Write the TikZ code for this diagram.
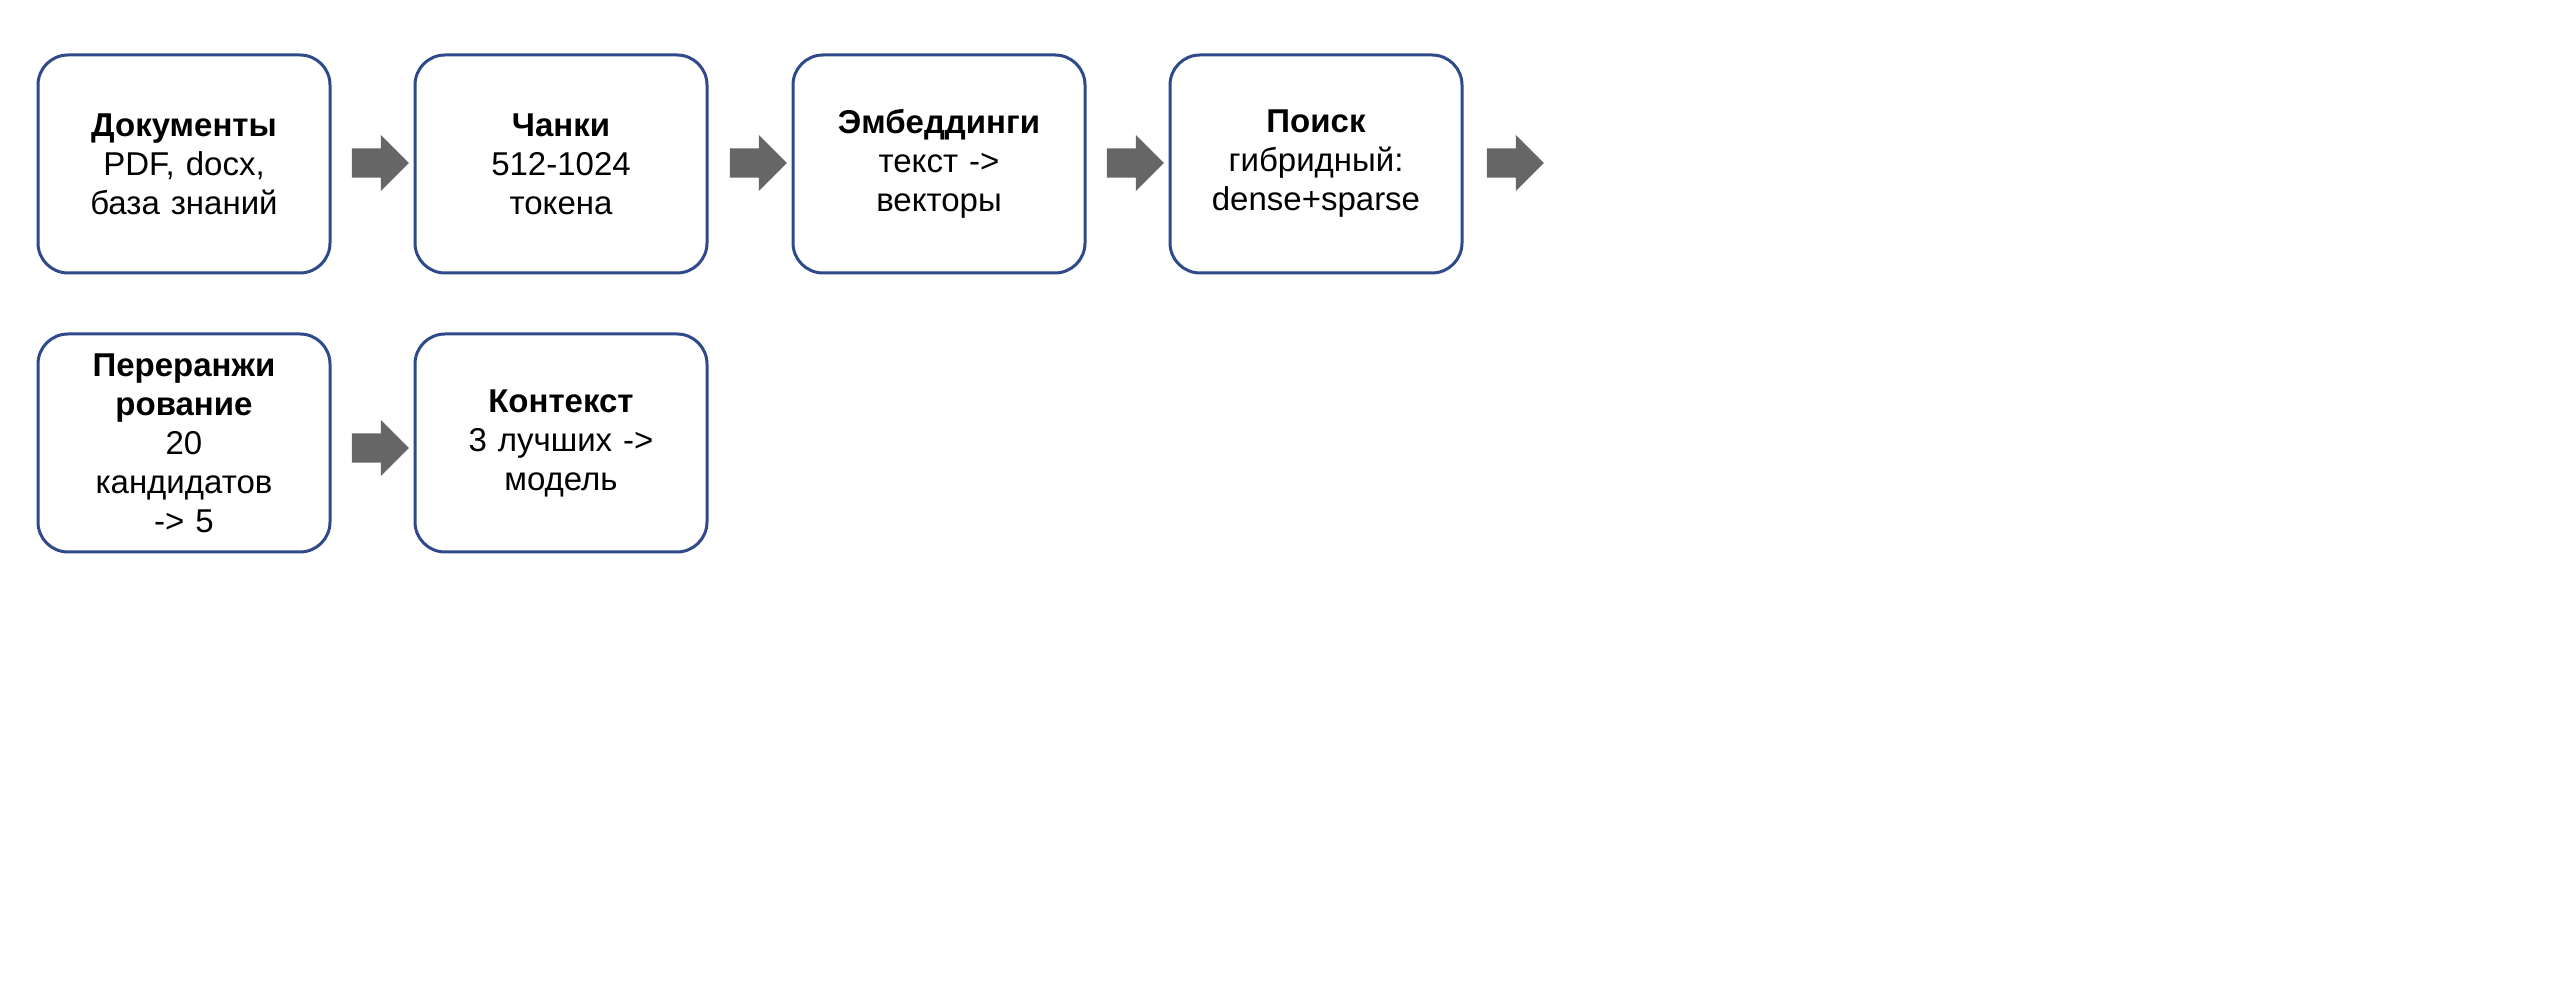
\documentclass[tikz,border=0pt]{standalone}
\usepackage{fontspec}
\setmainfont{Liberation Sans}
\usetikzlibrary{positioning,shapes.arrows}
\definecolor{boxblue}{HTML}{2F4A8A}
\definecolor{arrowgray}{HTML}{666666}
\begin{document}
\begin{tikzpicture}[x=1pt,y=1pt,
    stage/.style = {draw=boxblue, line width=3pt, rounded corners=30pt, fill=white,
      minimum width=292pt, minimum height=218pt, align=center, text width=270pt,
      font=\fontsize{33}{39}\selectfont},
    go/.style = {single arrow, fill=arrowgray, inner sep=14pt, minimum height=57pt,
      minimum width=56pt, single arrow head extend=13pt, single arrow head indent=0pt}]
    \useasboundingbox (0,0) rectangle (2560,982);
    \node[stage] (docs) at (184,818) {\textbf{Документы}\\PDF, docx,\\база знаний};
    \node[stage] (chunks) at (561,818) {\textbf{Чанки}\\512-1024\\токена};
    \node[stage] (emb) at (939,818) {\textbf{Эмбеддинги}\\текст ->\\векторы};
    \node[stage] (search) at (1316,818) {\textbf{Поиск}\\гибридный:\\dense+sparse};
    \node[stage] (rerank) at (184,539) {\textbf{Переранжи}\\\textbf{рование}\\20\\кандидатов\\-> 5};
    \node[stage] (ctx) at (561,539) {\textbf{Контекст}\\3 лучших ->\\модель};
    \node[go] (a1) at (373,819) {};
    \node[go] (a2) at (751,819) {};
    \node[go] (a3) at (1128,819) {};
    \node[go] (a4) at (1508,819) {};
    \node[go] (a5) at (373,534) {};
\end{tikzpicture}
\end{document}
